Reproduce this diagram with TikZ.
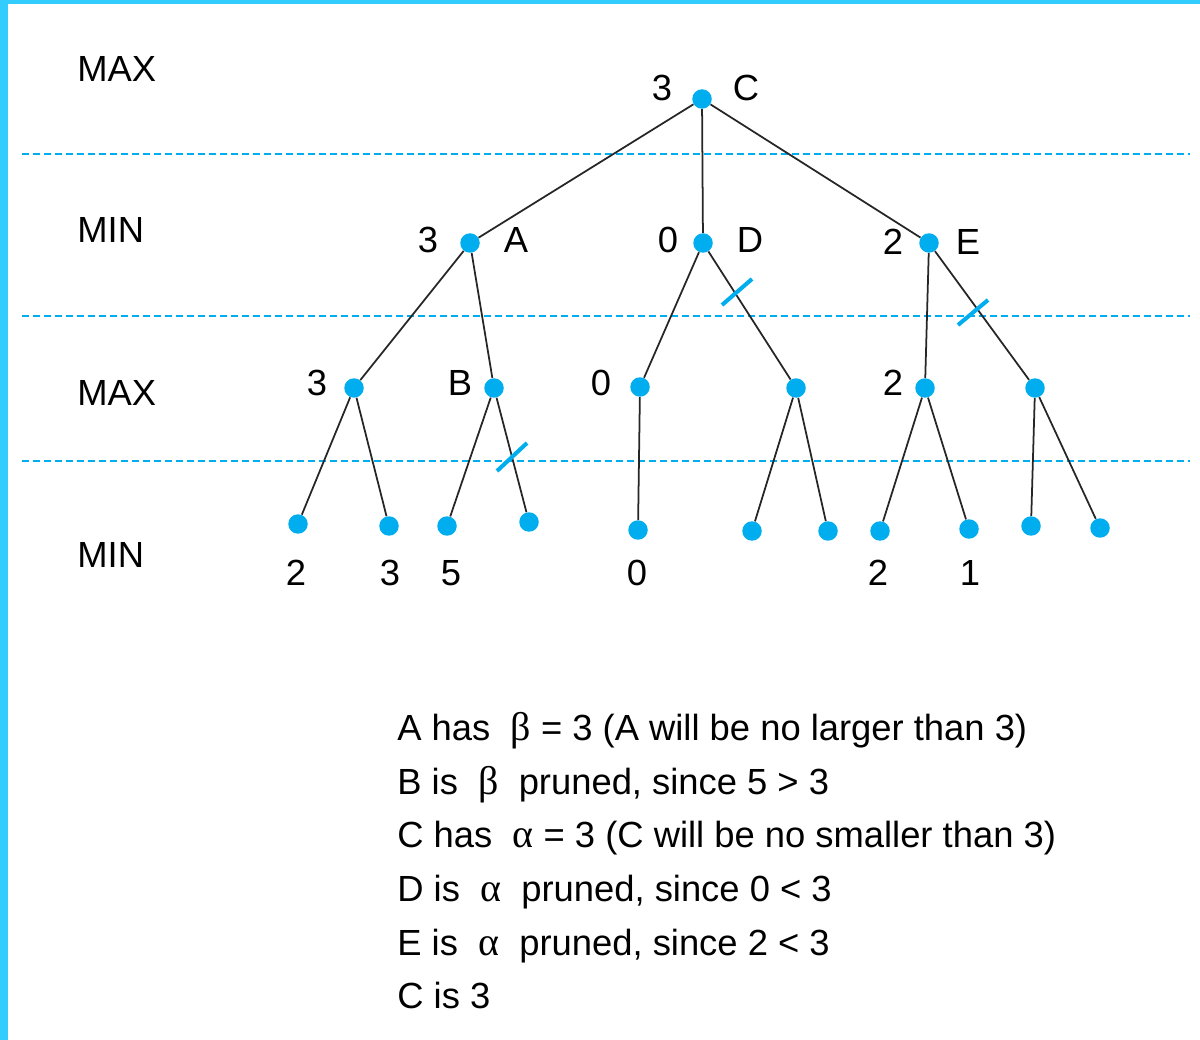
\documentclass[tikz,border=0pt]{standalone}
\usepackage{fontspec}
\setmainfont{Liberation Sans}
\newfontfamily\grk[Scale=1.1]{Liberation Serif}
\usepackage{tikz}
\usepackage{xcolor}
\definecolor{band}{RGB}{51,204,255}
\definecolor{dot}{RGB}{0,174,239}

\begin{document}
\begin{tikzpicture}[x=0.02cm,y=-0.02cm,font=\fontsize{20.7}{24}\selectfont,every node/.style={inner sep=0pt},
pt/.style={circle,fill=dot,minimum size=0.39cm},
lvl/.style={dot,line width=1.1pt,dash pattern=on 0.14cm off 0.08cm},
cut/.style={dot,line width=2.3pt},
edge/.style={line width=1pt,black!85},
txt/.style={anchor=base west}]
\useasboundingbox (0,0) rectangle (1200,1040);
\fill[band](0,0) rectangle (8,1040);\fill[band](0,0) rectangle (1200,4);
\draw[lvl](22,154)--(1190,154);\draw[lvl](22,316)--(1190,316);\draw[lvl](22,461)--(1190,461);
\node[txt](max1) at (77,82){MAX};
\node[txt](min1) at (77,243){MIN};
\node[txt](max2) at (77,405){MAX};
\node[txt](min2) at (77,567){MIN};
\node[pt](C) at (702,99){};
\node[pt](A) at (470,243){};
\node[pt](D) at (703,243){};
\node[pt](E) at (929,243){};
\node[pt](A1) at (354,388){};
\node[pt](B) at (494,388){};
\node[pt](D1) at (640,387){};
\node[pt](D2) at (796,388){};
\node[pt](E1) at (925,388){};
\node[pt](E2) at (1035,388){};
\node[pt](l1) at (298,524){};
\node[pt](l2) at (389,526){};
\node[pt](l3) at (447,526){};
\node[pt](l4) at (529,522){};
\node[pt](l5) at (638,530){};
\node[pt](l6) at (752,531){};
\node[pt](l7) at (828,531){};
\node[pt](l8) at (880,531){};
\node[pt](l9) at (969,529){};
\node[pt](l10) at (1031,526){};
\node[pt](l11) at (1100,528){};
\node(vC) at (662,88){3};\node(nC) at (746,88){C};
\node(vA) at (428,240){3};\node(nA) at (516,240){A};
\node(vD) at (668,240){0};\node(nD) at (750,240){D};
\node(vE) at (893,242){2};\node(nE) at (968,242){E};
\node(vA1) at (317,383){3};\node(nB) at (460,383){B};\node(vD1) at (601,383){0};\node(vE1) at (893,383){2};
\node(v1) at (296,573){2};\node(v2) at (390,573){3};\node(v3) at (451,573){5};\node(v5) at (637,573){0};\node(v8) at (878,573){2};\node(v9) at (970,573){1};
\draw[edge](C)--(A);\draw[edge](C)--(D);\draw[edge](C)--(E);
\draw[edge](A)--(A1);\draw[edge](A)--(B);\draw[edge](D)--(D1);\draw[edge](D)--(D2);\draw[edge](E)--(E1);\draw[edge](E)--(E2);
\draw[edge](A1)--(l1);\draw[edge](A1)--(l2);\draw[edge](B)--(l3);\draw[edge](B)--(l4);\draw[edge](D1)--(l5);
\draw[edge](D2)--(l6);\draw[edge](D2)--(l7);\draw[edge](E1)--(l8);\draw[edge](E1)--(l9);\draw[edge](E2)--(l10);\draw[edge](E2)--(l11);
% pruned branches
\draw[cut](722,305)--(752,279);\draw[cut](497,471)--(527,443);\draw[cut](958,325)--(988,300);
\node[txt](t1) at (397,740){A has\ \ {\grk β} = 3 (A will be no larger than 3)};
\node[txt](t2) at (397,794){B is\ \ {\grk β}\ \ pruned, since 5 > 3};
\node[txt](t3) at (397,847){C has\ \ {\grk α} = 3 (C will be no smaller than 3)};
\node[txt](t4) at (397,901){D is\ \ {\grk α}\ \ pruned, since 0 < 3};
\node[txt](t5) at (397,955){E is\ \ {\grk α}\ \ pruned, since 2 < 3};
\node[txt](t6) at (397,1008){C is 3};
\end{tikzpicture}
\end{document}
